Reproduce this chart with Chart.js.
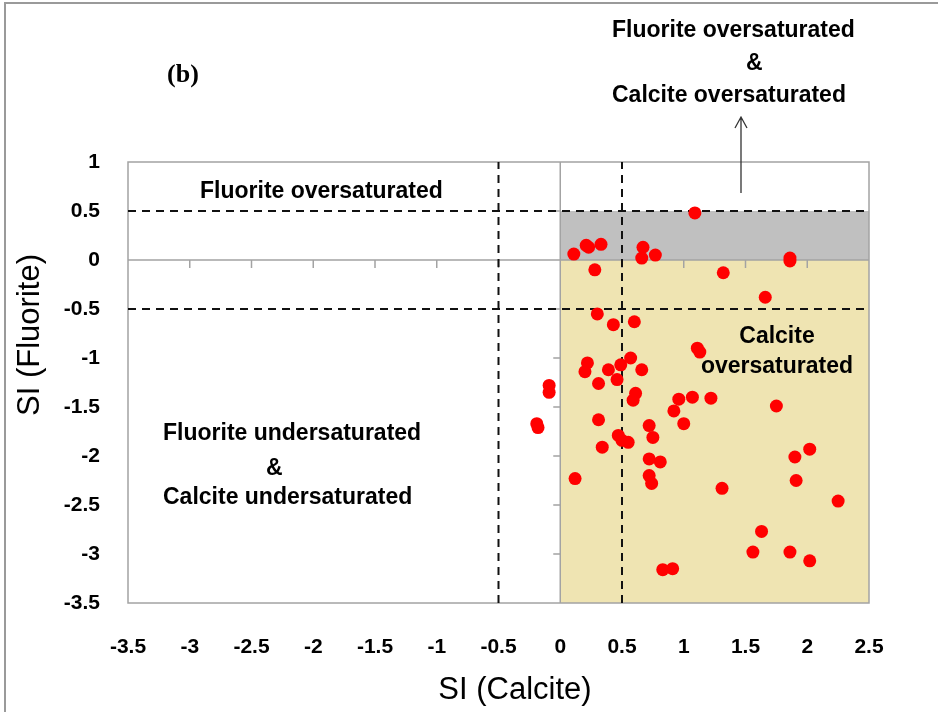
<!DOCTYPE html>
<html>
<head>
<meta charset="utf-8">
<script src="https://cdn.jsdelivr.net/npm/chart.js@4"></script>
<style>
body { margin: 0; background: #fff; }
#wrap { position: relative; width: 938px; height: 712px; }
</style>
</head>
<body>
<div id="wrap"><canvas id="siChart"></canvas></div>
<script>
// saturation indices
const siCalcite = [1.09, 0.11, 0.21, 0.23, 0.33, 0.67, 0.66, 0.77, 1.86, 1.86,
    0.28, 1.32, 1.66, 0.30, 0.43, 0.60, 1.11, 1.13, 0.22, 0.20,
    0.39, 0.49, 0.57, 0.66, 0.31, 0.46, -0.09, -0.09, 0.61, 0.59,
    0.96, 1.07, 1.22, 0.92, 1.75, 0.31, 1.00, -0.19, -0.18, 0.72,
    0.75, 0.47, 0.50, 0.55, 0.34, 0.72, 0.81, 2.02, 1.90, 0.12,
    0.72, 0.74, 1.31, 1.91, 2.25, 1.63, 1.56, 1.86, 2.02, 0.83, 0.91];
const siFluorite = [0.48, 0.06, 0.15, 0.13, 0.16, 0.13, 0.02, 0.05, 0.02, -0.01,
    -0.10, -0.13, -0.38, -0.55, -0.66, -0.63, -0.90, -0.94, -1.05, -1.14,
    -1.12, -1.07, -1.00, -1.12, -1.26, -1.22, -1.28, -1.35, -1.36, -1.43,
    -1.42, -1.40, -1.41, -1.54, -1.49, -1.63, -1.67, -1.67, -1.71, -1.69,
    -1.81, -1.79, -1.84, -1.86, -1.91, -2.03, -2.06, -1.93, -2.01, -2.23,
    -2.20, -2.28, -2.33, -2.25, -2.46, -2.77, -2.98, -2.98, -3.07, -3.16, -3.15];

const xRange = [-3.5, 2.5];
const yRange = [-3.5, 1];
const tickStep = 0.5;
const limits = [-0.5, 0.5];   // dashed guide lines, both axes

const points = siCalcite.map((v, i) => ({ x: v, y: siFluorite[i] }));

const guideSets = [];
limits.forEach(v => {
    guideSets.push({ data: [{ x: xRange[0], y: v }, { x: xRange[1], y: v }] });
    guideSets.push({ data: [{ x: v, y: yRange[0] }, { x: v, y: yRange[1] }] });
});

const BOLD = 'bold 23px "Liberation Sans", Arial, sans-serif';
const tickFont = { family: '"Liberation Sans", Arial, sans-serif', size: 21, weight: 'bold' };

// shaded zones, axis lines through the origin and the plot frame
const zones = {
    id: 'zones',
    beforeDatasetsDraw(chart) {
        const { ctx, chartArea: a } = chart;
        const X = v => chart.scales.x.getPixelForValue(v);
        const Y = v => chart.scales.y.getPixelForValue(v);
        ctx.save();
        ctx.fillStyle = '#c0c0c0';
        ctx.fillRect(X(0), Y(0.5), X(xRange[1]) - X(0), Y(0) - Y(0.5));
        ctx.fillStyle = '#efe4b2';
        ctx.fillRect(X(0), Y(0), X(xRange[1]) - X(0), Y(yRange[0]) - Y(0));

        ctx.strokeStyle = '#a3a3a3';
        ctx.lineWidth = 1.5;
        ctx.strokeRect(a.left, a.top, a.right - a.left, a.bottom - a.top);
        ctx.beginPath();
        ctx.moveTo(X(0), a.top); ctx.lineTo(X(0), a.bottom);
        ctx.moveTo(a.left, Y(0)); ctx.lineTo(a.right, Y(0));
        for (let v = xRange[0] + tickStep; v < xRange[1]; v += tickStep) {
            ctx.moveTo(X(v), Y(0)); ctx.lineTo(X(v), Y(0) + 8);
        }
        for (let v = yRange[0] + tickStep; v < yRange[1]; v += tickStep) {
            ctx.moveTo(X(0), Y(v)); ctx.lineTo(X(0) - 7, Y(v));
        }
        ctx.stroke();
        ctx.restore();
    }
};

// labels, arrow, axis titles, outer frame
const notes = {
    id: 'notes',
    afterDraw(chart) {
        const { ctx } = chart;
        ctx.save();
        ctx.strokeStyle = '#9a9a9a';
        ctx.lineWidth = 2;
        ctx.beginPath();
        ctx.moveTo(5, 712); ctx.lineTo(5, 3); ctx.lineTo(938, 3);
        ctx.stroke();

        ctx.fillStyle = '#000';
        ctx.textBaseline = 'middle';
        ctx.font = 'bold 26px "Liberation Serif", "Times New Roman", serif';
        ctx.textAlign = 'center';
        ctx.fillText('(b)', 183, 75);

        ctx.font = BOLD;
        ctx.textAlign = 'left';
        ctx.fillText('Fluorite oversaturated', 612, 31);
        ctx.fillText('&', 746, 64);
        ctx.fillText('Calcite oversaturated', 612, 96);

        ctx.fillText('Fluorite oversaturated', 200, 192);

        ctx.fillText('Fluorite undersaturated', 163, 434);
        ctx.fillText('&', 266, 469);
        ctx.fillText('Calcite undersaturated', 163, 498);

        ctx.textAlign = 'center';
        ctx.fillText('Calcite', 777, 337);
        ctx.fillText('oversaturated', 777, 367);

        // arrow up to the top-right label
        ctx.strokeStyle = '#333';
        ctx.lineWidth = 1.3;
        ctx.beginPath();
        ctx.moveTo(741, 193); ctx.lineTo(741, 117);
        ctx.moveTo(735, 128); ctx.lineTo(741, 117); ctx.lineTo(747, 128);
        ctx.stroke();

        ctx.font = '31px "Liberation Sans", Arial, sans-serif';
        ctx.fillText('SI (Calcite)', 515, 690);
        ctx.translate(30, 335);
        ctx.rotate(-Math.PI / 2);
        ctx.fillText('SI (Fluorite)', 0, 0);
        ctx.restore();
    }
};

new Chart(document.getElementById('siChart'), {
    type: 'scatter',
    data: {
        datasets: [
            {
                label: 'Samples',
                data: points,
                backgroundColor: '#ff0000',
                borderWidth: 0,
                pointRadius: 6.5,
                order: 0,
            },
            ...guideSets.map(g => ({
                type: 'line',
                data: g.data,
                borderColor: '#111',
                borderWidth: 2,
                borderDash: [8, 6],
                pointRadius: 0,
                fill: false,
                order: 1,
            })),
        ],
    },
    options: {
        responsive: true,
        maintainAspectRatio: false,
        animation: false,
        layout: { padding: { top: 162, right: 69, left: 0, bottom: 0 } },
        plugins: {
            legend: { display: false },
            tooltip: { enabled: false },
        },
        scales: {
            x: {
                type: 'linear',
                min: xRange[0],
                max: xRange[1],
                grid: { display: false },
                border: { display: false },
                ticks: {
                    stepSize: tickStep,
                    autoSkip: false,
                    maxRotation: 0,
                    padding: 24,
                    color: '#000',
                    font: tickFont,
                    callback: v => String(v),
                },
                afterFit: s => { s.height = 109; },
            },
            y: {
                type: 'linear',
                min: yRange[0],
                max: yRange[1],
                grid: { display: false },
                border: { display: false },
                ticks: {
                    stepSize: tickStep,
                    autoSkip: false,
                    padding: 20,
                    color: '#000',
                    font: tickFont,
                    callback: v => String(v),
                },
                afterFit: s => { s.width = 128; },
            },
        },
    },
    plugins: [zones, notes],
});
</script>
</body>
</html>
